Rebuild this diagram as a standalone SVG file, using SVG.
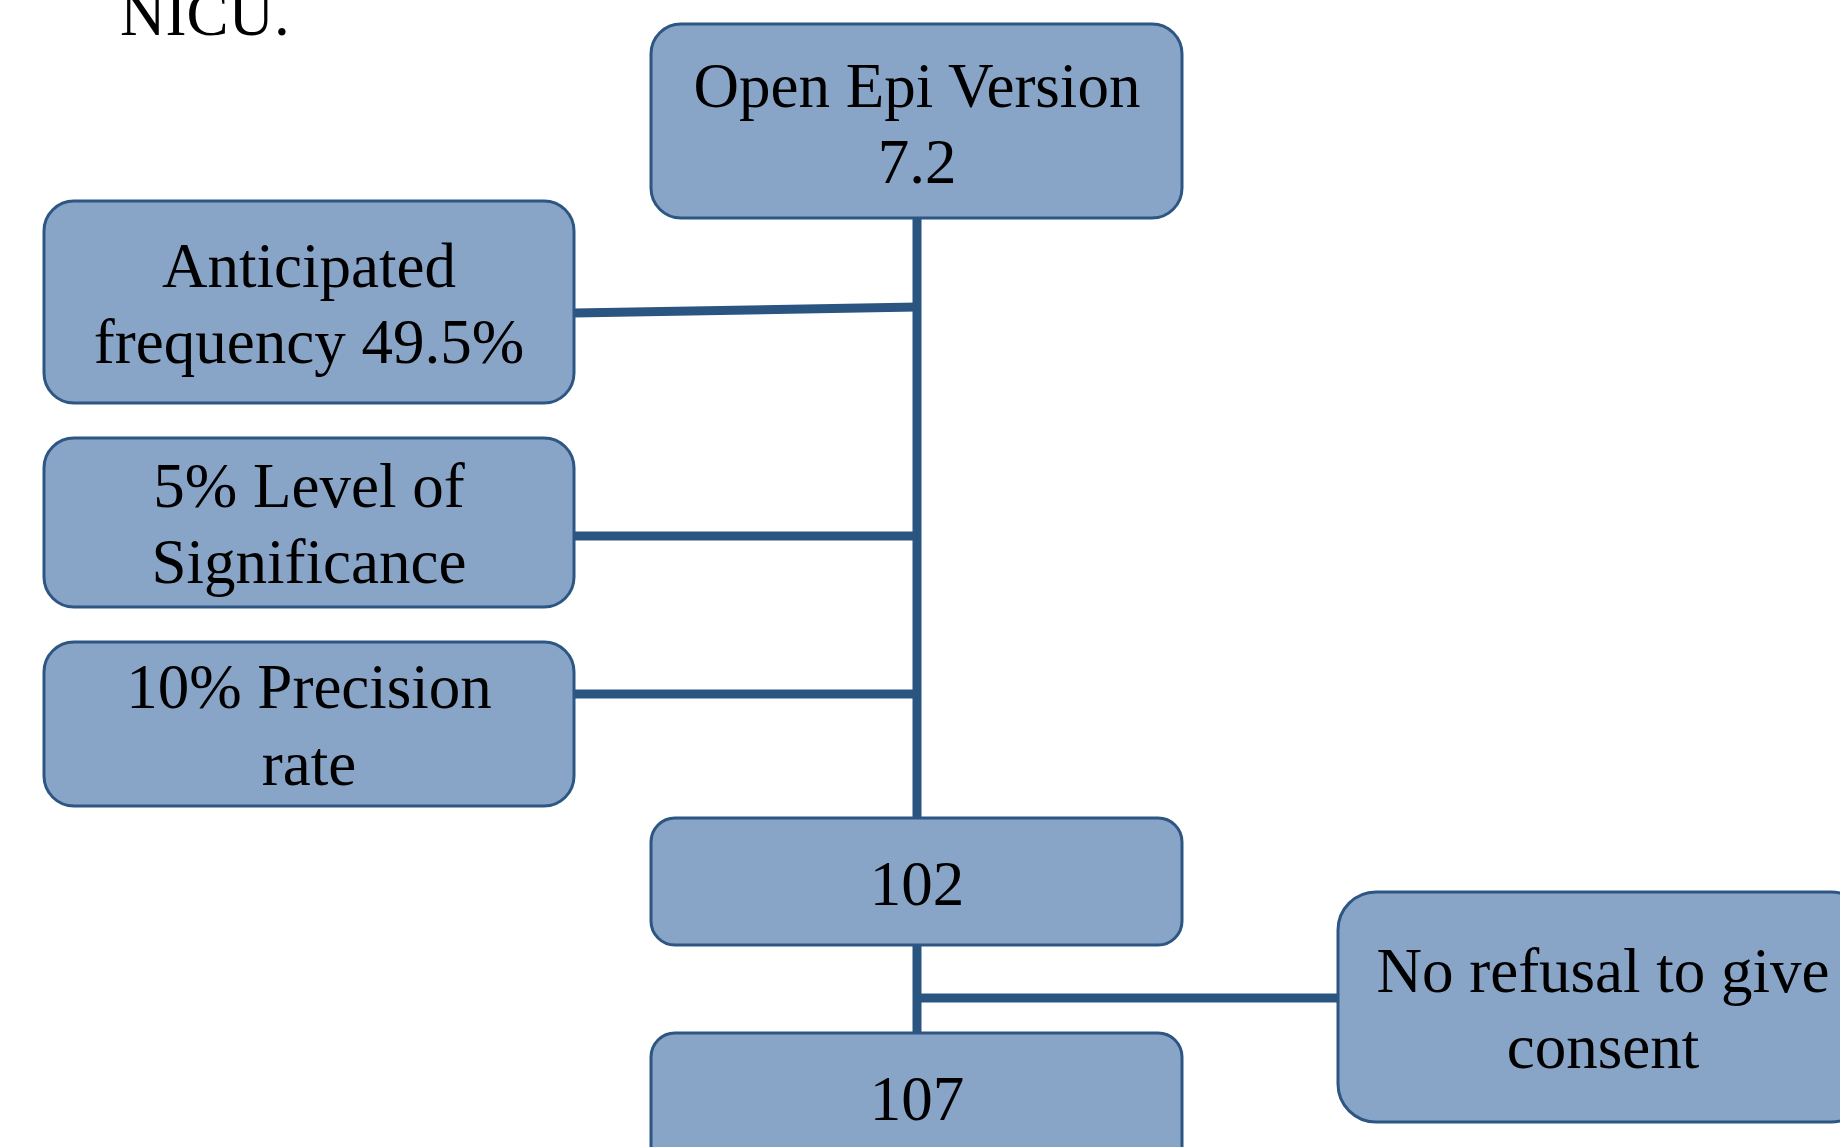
<svg xmlns="http://www.w3.org/2000/svg" width="1840" height="1147" viewBox="0 0 1840 1147">
<style>
.box{fill:#88a4c7;stroke:#2d5683;stroke-width:3}
.t{font-family:"Liberation Serif","Times New Roman",serif;font-size:63px;fill:#000;text-anchor:middle}
.c{stroke:#2a5580;stroke-width:9;fill:none}
</style>
<rect width="1840" height="1147" fill="#fff"/>
<text class="t" x="120" y="35" style="text-anchor:start">NICU.</text>
<g id="connectors">
<line class="c" x1="917" y1="218" x2="917" y2="818"/>
<line class="c" x1="917" y1="945" x2="917" y2="1033"/>
<line class="c" x1="574" y1="313" x2="917" y2="307"/>
<line class="c" x1="574" y1="536" x2="917" y2="536"/>
<line class="c" x1="574" y1="694" x2="917" y2="694"/>
<line class="c" x1="917" y1="998" x2="1338" y2="998"/>
</g>
<g id="openepi">
<rect class="box" x="651" y="24" width="531" height="194" rx="30"/>
<text class="t" x="917" y="107">Open Epi Version</text>
<text class="t" x="917" y="183">7.2</text>
</g>
<g id="frequency">
<rect class="box" x="44" y="201" width="530" height="202" rx="30"/>
<text class="t" x="309" y="287">Anticipated</text>
<text class="t" x="309" y="363">frequency 49.5%</text>
</g>
<g id="significance">
<rect class="box" x="44" y="438" width="530" height="169" rx="30"/>
<text class="t" x="309" y="507">5% Level of</text>
<text class="t" x="309" y="583">Significance</text>
</g>
<g id="precision">
<rect class="box" x="44" y="642" width="530" height="164" rx="30"/>
<text class="t" x="309" y="708">10% Precision</text>
<text class="t" x="309" y="785">rate</text>
</g>
<g id="n102">
<rect class="box" x="651" y="818" width="531" height="127" rx="24"/>
<text class="t" x="917" y="905">102</text>
</g>
<g id="n107">
<rect class="box" x="651" y="1033" width="531" height="140" rx="24"/>
<text class="t" x="917" y="1120">107</text>
</g>
<g id="consent">
<rect class="box" x="1338" y="892" width="531" height="230" rx="38"/>
<text class="t" x="1603" y="992">No refusal to give</text>
<text class="t" x="1603" y="1068">consent</text>
</g>
</svg>
